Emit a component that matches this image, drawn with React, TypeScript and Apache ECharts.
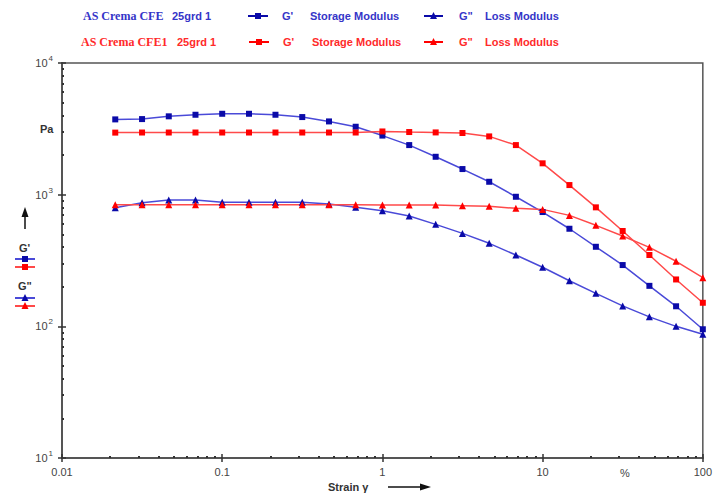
import React, { useEffect, useRef } from "react";
import * as echarts from "echarts";

const strain = [0.0215, 0.0316, 0.0464, 0.0681, 0.1, 0.147, 0.215, 0.316, 0.464, 0.681, 1, 1.47, 2.15, 3.16, 4.64, 6.81, 10, 14.7, 21.5, 31.6, 46.4, 68.1, 100];
const blueStorage = [3730, 3750, 3935, 4045, 4115, 4115, 4045, 3885, 3600, 3280, 2810, 2380, 1940, 1565, 1253, 964, 738, 551, 402, 292, 203, 142, 95];
const redStorage = [2960, 2965, 2965, 2965, 2965, 2965, 2965, 2965, 2965, 2965, 3020, 2990, 2970, 2940, 2770, 2380, 1730, 1183, 801, 530, 348, 227, 151];
const blueLoss = [796, 869, 910, 910, 874, 874, 874, 874, 849, 801, 755, 688, 595, 508, 427, 348, 281, 222, 178, 143, 118, 100, 87];
const redLoss = [838, 838, 838, 838, 838, 838, 838, 838, 838, 838, 834, 834, 834, 824, 815, 787, 773, 696, 585, 485, 398, 312, 234];

const xDecades = [0.01, 0.1, 1, 10, 100];
const yDecades = [10, 100, 1000, 10000];
const minorMult = [2, 3, 4, 5, 6, 7, 8, 9];

const BLUE_LINE = "#4a4ad8";
const BLUE_MARK = "#0a0aa8";
const BLUE_TEXT = "#3535c8";
const RED_LINE = "#ff4a4a";
const RED_MARK = "#ff0000";
const RED_TEXT = "#ff2a2a";
const AXIS = "#555";
const SANS = "Liberation Sans, Arial, sans-serif";
const SERIF = "Liberation Serif, Times New Roman, serif";

function minors(decades: number[]) {
  const out: number[] = [];
  decades.slice(0, -1).forEach((d) => minorMult.forEach((m) => out.push(+(d * m).toPrecision(3))));
  return out;
}

function zip(xs: number[], ys: number[]) {
  return xs.map((x, i) => [x, ys[i]]);
}

export default function App() {
  const ref = useRef<HTMLDivElement>(null);
  useEffect(() => {
    if (!ref.current) return;
    const chart = echarts.init(ref.current, null, { renderer: "svg" });

    const baseX = { type: "log", logBase: 10, min: 0.01, max: 100, gridIndex: 0, position: "bottom", offset: 0, splitLine: { show: false } } as any;
    const baseY = { type: "log", logBase: 10, min: 10, max: 10000, gridIndex: 0, position: "left", offset: 0, splitLine: { show: false } } as any;

    const lineSeries = (name: string, data: number[], lc: string, mc: string, sym: string, size: number) => ({
      name,
      type: "line",
      data: zip(strain, data),
      symbol: sym,
      symbolSize: size,
      showSymbol: true,
      lineStyle: { color: lc, width: 1.5 },
      itemStyle: { color: mc },
      xAxisIndex: 0,
      yAxisIndex: 0,
      z: 3,
    });

    const txt = (x: number, y: number, text: string, fill: string, font: string, extra: any = {}) => ({
      type: "text",
      x,
      y,
      style: { text, fill, font, textVerticalAlign: "middle", ...extra },
    });
    const seg = (x1: number, x2: number, y: number, c: string) => ({
      type: "line",
      shape: { x1, y1: y, x2, y2: y },
      style: { stroke: c, lineWidth: 2 },
    });
    const sq = (cx: number, cy: number, c: string) => ({
      type: "rect",
      shape: { x: cx - 3, y: cy - 3, width: 6, height: 6 },
      style: { fill: c },
    });
    const tri = (cx: number, cy: number, c: string) => ({
      type: "polygon",
      shape: { points: [[cx - 3.5, cy + 3], [cx + 3.5, cy + 3], [cx, cy - 4]] },
      style: { fill: c },
    });

    const boldSans = `bold 11px ${SANS}`;
    const r1 = 16;
    const r2 = 42;

    const graphic: any[] = [
      // top legend row 1
      txt(83, r1, "AS Crema CFE", BLUE_TEXT, `bold 12px ${SERIF}`),
      txt(172, r1, "25grd 1", BLUE_TEXT, boldSans),
      seg(248, 268, r1, BLUE_MARK), sq(258, r1, BLUE_MARK),
      txt(282, r1, "G'", BLUE_TEXT, boldSans),
      txt(310, r1, "Storage Modulus", BLUE_TEXT, boldSans),
      seg(424, 443, r1, BLUE_MARK), tri(433.5, r1, BLUE_MARK),
      txt(459, r1, 'G"', BLUE_TEXT, boldSans),
      txt(485, r1, "Loss Modulus", BLUE_TEXT, boldSans),
      // row 2
      txt(81, r2, "AS Crema CFE1", RED_TEXT, `bold 12px ${SERIF}`),
      txt(177, r2, "25grd 1", RED_TEXT, boldSans),
      seg(249, 269, r2, RED_MARK), sq(259, r2, RED_MARK),
      txt(283, r2, "G'", RED_TEXT, boldSans),
      txt(312, r2, "Storage Modulus", RED_TEXT, boldSans),
      seg(424, 443, r2, RED_MARK), tri(433.5, r2, RED_MARK),
      txt(459, r2, 'G"', RED_TEXT, boldSans),
      txt(485, r2, "Loss Modulus", RED_TEXT, boldSans),
      // Pa
      txt(40, 129, "Pa", "#333", boldSans),
      // up arrow
      { type: "line", shape: { x1: 25, y1: 229, x2: 25, y2: 214 }, style: { stroke: "#111", lineWidth: 1.5 } },
      { type: "polygon", shape: { points: [[21.5, 217], [28.5, 217], [25, 207]] }, style: { fill: "#111" } },
      // left legend
      txt(19, 248, "G'", "#333", boldSans),
      seg(15, 35, 259, BLUE_LINE), sq(25, 259, BLUE_MARK),
      seg(15, 35, 267, RED_LINE), sq(25, 267, RED_MARK),
      txt(18, 286, 'G"', "#333", boldSans),
      seg(15, 35, 298, BLUE_LINE), tri(25, 298, BLUE_MARK),
      seg(15, 35, 306, RED_LINE), tri(25, 306, RED_MARK),
      // x axis title
      txt(328, 487, "Strain \u03b3", "#333", boldSans),
      { type: "line", shape: { x1: 388, y1: 487, x2: 422, y2: 487 }, style: { stroke: "#111", lineWidth: 1.5 } },
      { type: "polygon", shape: { points: [[420, 483.5], [431, 487], [420, 490.5]] }, style: { fill: "#111" } },
      // percent label
      txt(625, 473, "%", "#444", `11px ${SANS}`, { textAlign: "center" }),
    ];

    chart.setOption({
      animation: false,
      backgroundColor: "#fff",
      grid: { left: 62, right: 9, top: 63, bottom: 36, show: true, borderColor: AXIS, borderWidth: 1.5, containLabel: false },
      xAxis: [
        {
          ...baseX,
          axisLine: { show: true, lineStyle: { color: AXIS, width: 2 } },
          axisTick: { show: true, inside: false, length: 4, lineStyle: { color: "#333", width: 1.5 }, customValues: xDecades },
          axisLabel: {
            show: true,
            margin: 8,
            color: "#444",
            fontSize: 11,
            fontFamily: SANS,
            customValues: xDecades,
            formatter: (v: number) => (v < 1 ? String(+v.toPrecision(2)) : String(Math.round(v))),
          },
        },
        {
          ...baseX,
          axisLine: { show: false },
          axisTick: { show: true, inside: true, length: 4, lineStyle: { color: "#333", width: 1.5 }, customValues: xDecades },
          axisLabel: { show: false },
        },
        {
          ...baseX,
          axisLine: { show: false },
          axisTick: { show: true, inside: true, length: 2, lineStyle: { color: "#333", width: 2 }, customValues: minors(xDecades) },
          axisLabel: { show: false },
        },
      ],
      yAxis: [
        {
          ...baseY,
          axisLine: { show: true, lineStyle: { color: AXIS, width: 2 } },
          axisTick: { show: true, inside: false, length: 4, lineStyle: { color: "#333", width: 1.5 }, customValues: yDecades },
          axisLabel: {
            show: true,
            margin: 9,
            color: "#444",
            customValues: yDecades,
            formatter: (v: number) => `{b|10}{s|${Math.round(Math.log10(v))}}`,
            rich: {
              b: { fontSize: 11, fontFamily: SANS, color: "#444" },
              s: { fontSize: 8, fontFamily: SANS, color: "#444", padding: [0, 0, 9, 1] },
            },
          },
        },
        {
          ...baseY,
          axisLine: { show: false },
          axisTick: { show: true, inside: true, length: 4, lineStyle: { color: "#333", width: 1.5 }, customValues: yDecades },
          axisLabel: { show: false },
        },
        {
          ...baseY,
          axisLine: { show: false },
          axisTick: { show: true, inside: true, length: 2, lineStyle: { color: "#333", width: 2 }, customValues: minors(yDecades) },
          axisLabel: { show: false },
        },
      ],
      series: [
        lineSeries("AS Crema CFE G' Storage Modulus", blueStorage, BLUE_LINE, BLUE_MARK, "rect", 6),
        lineSeries('AS Crema CFE G" Loss Modulus', blueLoss, BLUE_LINE, BLUE_MARK, "triangle", 7),
        lineSeries("AS Crema CFE1 G' Storage Modulus", redStorage, RED_LINE, RED_MARK, "rect", 6),
        lineSeries('AS Crema CFE1 G" Loss Modulus', redLoss, RED_LINE, RED_MARK, "triangle", 7),
      ],
      graphic,
    });
    return () => chart.dispose();
  }, []);
  return <div ref={ref} style={{ width: 715, height: 494, position: "absolute", left: 0, top: 0 }} />;
}
